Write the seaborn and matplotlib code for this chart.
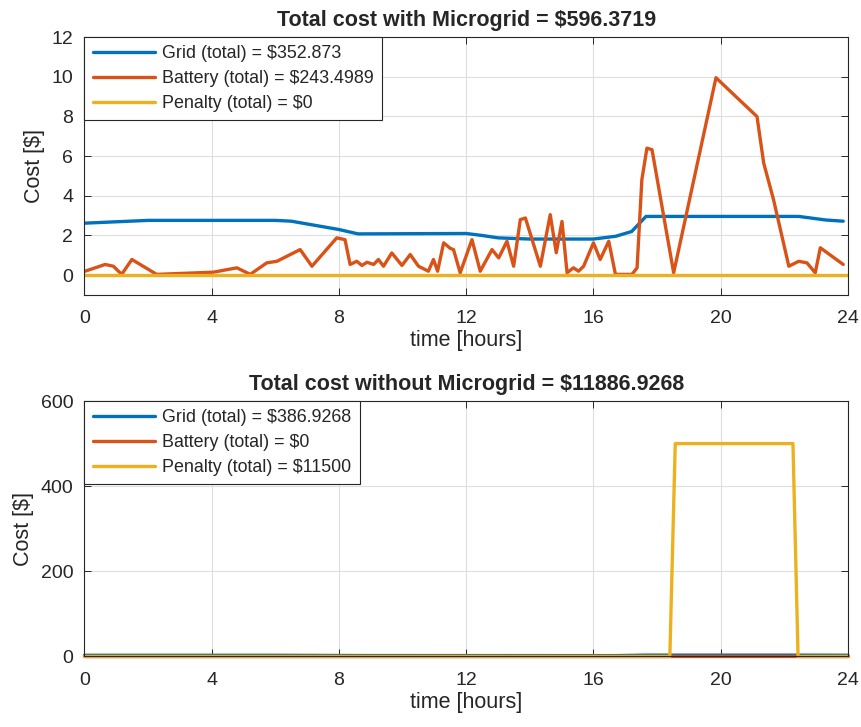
import numpy as np
import pandas as pd
import matplotlib
matplotlib.use("Agg")
import matplotlib.pyplot as plt
import seaborn as sns

# ---------------- data ----------------
# Top panel: with microgrid
grid_top_t = [0, 2, 6, 6.5, 8.0, 8.6, 12.0, 12.5, 13.0, 14.0, 16.0, 16.7, 17.2, 17.65, 22.45, 23.3, 23.85]
grid_top_v = [2.62, 2.76, 2.76, 2.72, 2.3, 2.08, 2.1, 2.0, 1.88, 1.82, 1.82, 1.96, 2.2, 2.96, 2.96, 2.78, 2.72]

batt_top_t = [0.02, 0.65, 0.91, 1.17, 1.49, 2.27, 4.05, 4.79, 5.21, 5.73, 6.05, 6.78, 7.15,
              7.93, 8.19, 8.35, 8.56, 8.72, 8.88, 9.09, 9.24, 9.4, 9.66, 9.98, 10.24, 10.5,
              10.81, 10.97, 11.1, 11.29, 11.5, 11.6, 11.81, 12.18, 12.44, 12.81, 13.02, 13.28,
              13.49, 13.7, 13.86, 14.33, 14.64, 14.83, 15.01, 15.17, 15.37, 15.53, 15.69, 16.0,
              16.21, 16.48, 16.69, 17.21, 17.37, 17.52, 17.68, 17.84, 18.52, 19.85, 21.14,
              21.35, 21.66, 22.14, 22.45, 22.71, 22.97, 23.13, 23.85]
batt_top_v = [0.2, 0.54, 0.45, 0.04, 0.79, 0.04, 0.15, 0.37, 0.04, 0.62, 0.7, 1.29, 0.45,
              1.88, 1.79, 0.54, 0.7, 0.49, 0.65, 0.54, 0.79, 0.45, 1.12, 0.49, 1.04, 0.45,
              0.2, 0.79, 0.2, 1.63, 1.35, 1.29, 0.12, 1.79, 0.2, 1.29, 0.87, 1.71,
              0.45, 2.8, 2.88, 0.45, 3.05, 1.13, 2.71, 0.12, 0.37, 0.2, 0.45, 1.63,
              0.79, 1.71, 0.04, 0.04, 0.37, 4.81, 6.4, 6.32, 0.12, 9.95, 7.99,
              5.65, 3.8, 0.45, 0.7, 0.62, 0.12, 1.38, 0.54]

pen_top_t = [0, 24]
pen_top_v = [0, 0]

# Bottom panel: without microgrid
grid_bot_t = [0, 6, 8.6, 16.7, 17.65, 22.45, 24]
grid_bot_v = [2.8, 2.8, 2.2, 2.0, 3.2, 3.2, 2.9]

batt_bot_t = [0, 24]
batt_bot_v = [0, 0]

pen_bot_t = [0, 18.4, 18.57, 22.27, 22.43, 24]
pen_bot_v = [0, 0, 500, 500, 0, 0]

labels_top = ["Grid (total) = $352.873", "Battery (total) = $243.4989", "Penalty (total) = $0"]
labels_bot = ["Grid (total) = $386.9268", "Battery (total) = $0", "Penalty (total) = $11500"]
title_top = "Total cost with Microgrid = $596.3719"
title_bot = "Total cost without Microgrid = $11886.9268"

x_ticks = [0, 4, 8, 12, 16, 20, 24]
y_ticks_top = [0, 2, 4, 6, 8, 10, 12]
y_ticks_bot = [0, 200, 400, 600]

colors = ["#0072BD", "#D95319", "#EDB120"]

# ---------------- styling ----------------
sns.set_style("white")
plt.rcParams["font.family"] = ["Liberation Sans", "DejaVu Sans"]
plt.rcParams["text.color"] = "#262626"
plt.rcParams["axes.labelcolor"] = "#262626"

fig = plt.figure(figsize=(8.61, 7.27), dpi=100)
ax1 = fig.add_axes([0.0981, 0.5942, 0.8868, 0.3549])
ax2 = fig.add_axes([0.0981, 0.0970, 0.8868, 0.3514])

LW = 2.4


def build(ts, vs, labels):
    frames = []
    for t, v, lab in zip(ts, vs, labels):
        frames.append(pd.DataFrame({"t": t, "cost": v, "series": lab}))
    return pd.concat(frames, ignore_index=True)


def panel(ax, df, labels, title, yticks, ylim, clip):
    sns.lineplot(data=df, x="t", y="cost", hue="series", hue_order=labels,
                 palette=colors, estimator=None, sort=False, linewidth=LW,
                 ax=ax, legend=True)
    for ln in ax.get_lines():
        ln.set_clip_on(clip)
        ln.set_solid_joinstyle("round")
    ax.set_xlim(0, 24)
    ax.set_ylim(*ylim)
    ax.set_xticks(x_ticks)
    ax.set_yticks(yticks)
    ax.grid(True, color="#dedede", linewidth=0.8)
    ax.set_axisbelow(True)
    for s in ax.spines.values():
        s.set_color("#262626")
        s.set_linewidth(0.8)
        s.set_visible(True)
    ax.tick_params(direction="in", length=5, width=0.7, colors="#262626",
                   labelsize=14, top=True, right=True, left=True, bottom=True)
    ax.tick_params(axis="x", pad=11)
    ax.tick_params(axis="y", pad=8)
    ax.set_xlabel("time [hours]", fontsize=15.5, labelpad=2)
    ax.set_ylabel("Cost [$]", fontsize=15.5, labelpad=5)
    ax.set_title(title, fontsize=15.5, fontweight="bold", pad=8)
    handles, labs = ax.get_legend_handles_labels()
    leg = ax.legend(handles, labs, loc="upper left", borderaxespad=0, fancybox=False,
                    edgecolor="#262626", framealpha=1, fontsize=12.9, handlelength=3.5,
                    handletextpad=0.4, labelspacing=0.45, borderpad=0.45, title=None)
    leg.get_frame().set_linewidth(0.8)
    for h in leg.get_lines():
        h.set_linewidth(LW)


df_top = build([grid_top_t, batt_top_t, pen_top_t], [grid_top_v, batt_top_v, pen_top_v], labels_top)
df_bot = build([grid_bot_t, batt_bot_t, pen_bot_t], [grid_bot_v, batt_bot_v, pen_bot_v], labels_bot)

panel(ax1, df_top, labels_top, title_top, y_ticks_top, (-1, 12), True)
panel(ax2, df_bot, labels_bot, title_bot, y_ticks_bot, (0, 600), False)

fig.savefig("out.png", dpi=100)
